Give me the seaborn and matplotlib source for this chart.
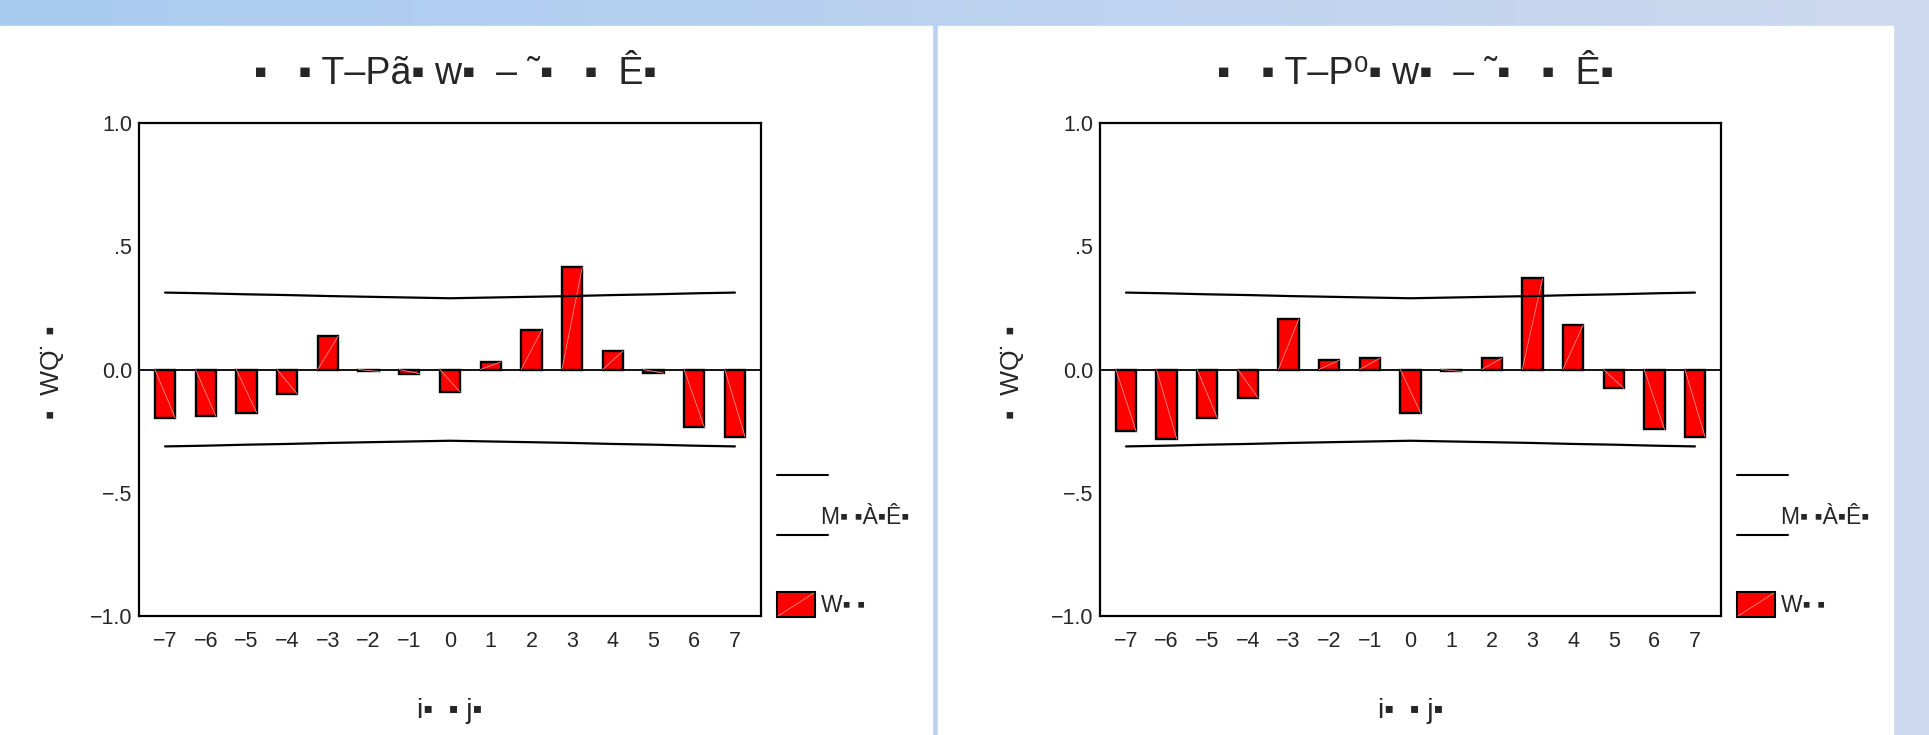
import numpy as np
import pandas as pd
import matplotlib
matplotlib.use("Agg")
import matplotlib.pyplot as plt
import seaborn as sns
from matplotlib.lines import Line2D
from matplotlib.patches import Rectangle

# ---------------- data ----------------
lags = [-7, -6, -5, -4, -3, -2, -1, 0, 1, 2, 3, 4, 5, 6, 7]
xtick_labels = ["−7", "−6", "−5", "−4", "−3", "−2", "−1", "0", "1", "2", "3", "4", "5", "6", "7"]
ccf_left = [-0.197, -0.190, -0.175, -0.100, 0.135, -0.008, -0.017, -0.092,
            0.031, 0.159, 0.415, 0.075, -0.015, -0.235, -0.274]
ccf_right = [-0.251, -0.282, -0.198, -0.115, 0.204, 0.038, 0.046, -0.177,
             -0.008, 0.046, 0.370, 0.181, -0.077, -0.243, -0.274]
upper_limit = [0.312, 0.309, 0.305, 0.302, 0.298, 0.295, 0.292, 0.289,
               0.292, 0.295, 0.298, 0.302, 0.305, 0.309, 0.312]
lower_limit = [-0.312, -0.309, -0.305, -0.302, -0.298, -0.295, -0.292, -0.289,
               -0.292, -0.295, -0.298, -0.302, -0.305, -0.309, -0.312]
yticks = [-1.0, -0.5, 0.0, 0.5, 1.0]
ytick_labels = ["−1.0", "−.5", "0.0", ".5", "1.0"]
titles = ["▪   ▪ T–Pã▪ w▪  – ˜▪   ▪  Ê▪", "▪   ▪ T–P⁰▪ w▪  – ˜▪   ▪  Ê▪"]
ylabel = "▪  WQ̈  ▪"
xlabel = "i▪  ▪ j▪"
legend_labels = ["M▪ ▪À▪Ê▪", "W▪ ▪"]

# ---------------- style ----------------
sns.set_style("white")
plt.rcParams["font.family"] = ["Liberation Sans", "DejaVu Sans"]
narrow = ["Liberation Sans Narrow", "Liberation Sans", "DejaVu Sans"]

W, H = 1929, 735
fig = plt.figure(figsize=(W / 100, H / 100), dpi=100)


def fx(x):
    return x / W


def fy(y):
    return 1 - y / H


# background frame with gradient
bg = fig.add_axes([0, 0, 1, 1], zorder=-10)
c0 = np.array([169, 203, 241]) / 255
c1 = np.array([205, 217, 238]) / 255
t = np.linspace(0, 1, 256)[None, :, None]
grad = c0 + (c1 - c0) * t
grad = np.repeat(grad, 2, axis=0)
bg.imshow(grad, extent=[0, W, H, 0], aspect="auto")
bg.add_patch(Rectangle((0, 26), 932, H - 26, color="white"))
bg.add_patch(Rectangle((938, 26), 1893 - 938, H - 26, color="white"))
bg.set_xlim(0, W)
bg.set_ylim(H, 0)
bg.axis("off")

panels = [
    dict(left=139, right=761, vals=ccf_left, title=titles[0], ylab_x=52),
    dict(left=1100, right=1721, vals=ccf_right, title=titles[1], ylab_x=1012),
]
top_px, bot_px = 123, 616

for p in panels:
    ax = fig.add_axes([fx(p["left"]), fy(bot_px), (p["right"] - p["left"]) / W, (bot_px - top_px) / H])
    ax.set_facecolor("white")
    sns.barplot(x=lags, y=p["vals"], native_scale=True, width=0.5, color="#FF0000",
                saturation=1, edgecolor="black", linewidth=1.7, ax=ax, zorder=3)
    for bar in list(ax.patches):
        x0 = bar.get_x()
        w = bar.get_width()
        h = bar.get_height()
        ax.plot([x0, x0 + w], [0, h], color="#ff8a8a", lw=0.6, zorder=4)
    ax.axhline(0, color="black", lw=1.3, zorder=2)
    sns.lineplot(x=lags, y=upper_limit, color="black", lw=1.6, ax=ax, zorder=5)
    sns.lineplot(x=lags, y=lower_limit, color="black", lw=1.6, ax=ax, zorder=5)
    ax.set_xlim(-7.64, 7.64)
    ax.set_ylim(-1, 1)
    ax.set_xticks(lags)
    ax.set_xticklabels(xtick_labels, family=narrow, fontsize=15.5)
    ax.set_yticks(yticks)
    ax.set_yticklabels(ytick_labels, family=narrow, fontsize=15.5)
    ax.tick_params(axis="both", direction="out", length=3, width=3, color="black")
    ax.tick_params(axis="x", pad=8)
    ax.tick_params(axis="y", pad=2)
    for s in ax.spines.values():
        s.set_visible(True)
        s.set_color("black")
        s.set_linewidth(1.6)
    ax.set_xlabel("")
    ax.set_ylabel("")

    cx = (p["left"] + p["right"]) / 2
    fig.text(fx(cx + 5), fy(74), p["title"], ha="center", va="center", fontsize=27)
    fig.text(fx(p["ylab_x"]), fy(372), ylabel, rotation=90, ha="center", va="center",
             fontsize=19)
    fig.text(fx(cx), fy(711), xlabel, ha="center", va="center", fontsize=20, family=narrow)

    # legend
    r = p["right"]
    for yy in (475, 535):
        fig.add_artist(Line2D([fx(r + 16), fx(r + 67)], [fy(yy), fy(yy)],
                              transform=fig.transFigure, color="black", lw=1.5))
    fig.text(fx(r + 60), fy(517), legend_labels[0], ha="left", va="center", fontsize=16.5)
    fig.add_artist(Rectangle((fx(r + 16), fy(617)), 38 / W, 25 / H, transform=fig.transFigure,
                             facecolor="#FF0000", edgecolor="black", lw=1.5))
    fig.add_artist(Line2D([fx(r + 17), fx(r + 53)], [fy(616), fy(593)],
                          transform=fig.transFigure, color="#ff8a8a", lw=0.6))
    fig.text(fx(r + 60), fy(605), legend_labels[1], ha="left", va="center", fontsize=16.5)

fig.savefig("out.png", dpi=100)
